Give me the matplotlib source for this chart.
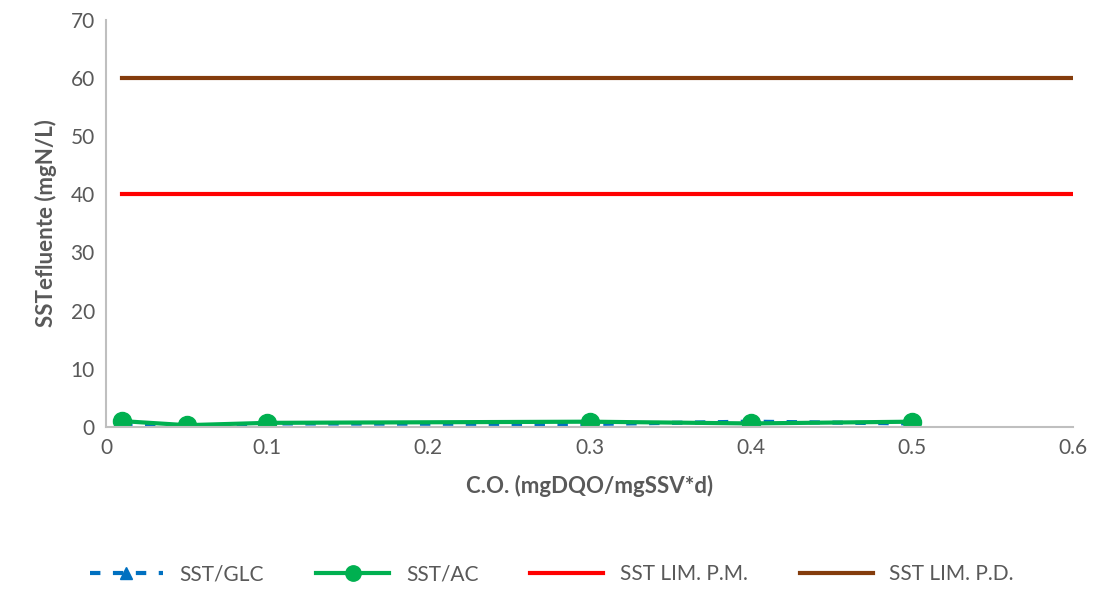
import matplotlib.pyplot as plt

# data
co = [0.01, 0.05, 0.1, 0.3, 0.4, 0.5]
sst_glc = [0.3, 0.1, 0.6, 0.5, 0.9, 0.6]
sst_ac = [1.0, 0.3, 0.7, 0.9, 0.6, 0.9]
lim_x = [0.01, 0.6]
lim_pm = [40, 40]
lim_pd = [60, 60]

plt.rcParams['font.family'] = ['Lato', 'DejaVu Sans']
gray = '#595959'

fig = plt.figure(figsize=(11.04, 6.03), dpi=100)
ax = fig.add_axes([0.096, 0.292, 0.876, 0.675])

ax.plot(co, sst_glc, color='#0070C0', linestyle=(0, (2.5, 3)), linewidth=3,
        marker='^', markersize=10, label='SST/GLC')
ax.plot(co, sst_ac, color='#00B050', linewidth=3, marker='o', markersize=13,
        label='SST/AC')
ax.plot(lim_x, lim_pm, color='#FF0000', linewidth=3, label='SST LIM. P.M.')
ax.plot(lim_x, lim_pd, color='#843C0C', linewidth=3, label='SST LIM. P.D.')

ax.set_xlim(0, 0.6)
ax.set_ylim(0, 70)
ax.set_xticks([0, 0.1, 0.2, 0.3, 0.4, 0.5, 0.6])
ax.set_xticklabels(['0', '0.1', '0.2', '0.3', '0.4', '0.5', '0.6'])
ax.set_yticks(range(0, 71, 10))
ax.tick_params(colors=gray, labelsize=15, length=0, pad=8)

for s in ['top', 'right']:
    ax.spines[s].set_visible(False)
for s in ['left', 'bottom']:
    ax.spines[s].set_color('#BFBFBF')
    ax.spines[s].set_linewidth(1.5)

ax.set_xlabel('C.O. (mgDQO/mgSSV*d)', fontsize=16, fontweight='bold', color=gray, labelpad=12)
ax.set_ylabel('SSTefluente (mgN/L)', fontsize=16, fontweight='bold', color=gray, labelpad=10)

leg = fig.legend(loc='lower center', bbox_to_anchor=(0.5, 0.0), ncol=4, frameon=False,
                 fontsize=15, handlelength=3.5, columnspacing=2.5, markerscale=0.85)
for t in leg.get_texts():
    t.set_color(gray)

fig.savefig('out.png', dpi=100)
